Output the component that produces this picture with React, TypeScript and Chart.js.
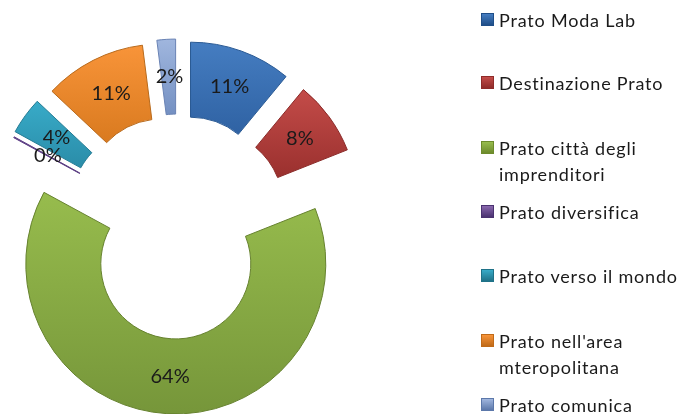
import React, { useEffect, useRef } from "react";
import { Chart, registerables } from "chart.js";

Chart.register(...registerables);

const categories = [
  "Prato Moda Lab",
  "Destinazione Prato",
  "Prato città degli imprenditori",
  "Prato diversifica",
  "Prato verso il mondo",
  "Prato nell'area mteropolitana",
  "Prato comunica",
];
const values = [11, 8, 64, 0.1, 4, 11, 2];
const legendLines = [
  ["Prato Moda Lab"],
  ["Destinazione Prato"],
  ["Prato città degli", "imprenditori"],
  ["Prato diversifica"],
  ["Prato verso il mondo"],
  ["Prato nell'area", "mteropolitana"],
  ["Prato comunica"],
];
const lightColors = ["#457dc1", "#c44c49", "#97bc4d", "#8a68ae", "#38abc8", "#f89439", "#a0b6de"];
const darkColors = ["#2f62a3", "#9a302e", "#76963a", "#553b78", "#2a8ca8", "#d97a1f", "#7490c2"];
const edgeColors = ["#2a5a94", "#8a2a28", "#66822f", "#5a3d82", "#257c94", "#b86a1c", "#6a83b4"];
const swatchColors = ["#1f4e88", "#8f2b29", "#6d8b2c", "#4a3270", "#1f7288", "#c06a18", "#5c78aa"];
const explode = [37, 37, 37, 37, 39, 37, 38];
const legendTops = [7, 70, 135, 199, 263, 328, 392];
const FONT = "Lato, Carlito, sans-serif";

function sliceGradient(ctx: any) {
  const chart = ctx.chart;
  const i = ctx.dataIndex;
  const el = chart.getDatasetMeta(0).data[i] as any;
  if (!chart.chartArea || !el || !el.outerRadius) return lightColors[i];
  const R = el.outerRadius;
  const g = chart.ctx.createLinearGradient(0, el.y - R, 0, el.y + R);
  const ys = [el.startAngle, el.endAngle].flatMap((a: number) => [Math.sin(a) * R, Math.sin(a) * el.innerRadius]);
  if (el.startAngle < Math.PI / 2 && el.endAngle > Math.PI / 2) ys.push(R);
  const top = (Math.min(...ys) + R) / (2 * R);
  const bot = (Math.max(...ys) + R) / (2 * R);
  g.addColorStop(Math.max(0, top), lightColors[i]);
  g.addColorStop(Math.min(1, bot), darkColors[i]);
  return g;
}

const explodePlugin = {
  id: "explodeSlices",
  afterDatasetsUpdate(chart: any) {
    chart.getDatasetMeta(0).data.forEach((el: any, i: number) => {
      const mid = (el.startAngle + el.endAngle) / 2;
      el.x += Math.cos(mid) * explode[i];
      el.y += Math.sin(mid) * explode[i];
    });
  },
};

const labelPlugin = {
  id: "percentLabels",
  afterDatasetsDraw(chart: any) {
    const { ctx } = chart;
    const total = values.reduce((a, b) => a + b, 0);
    ctx.save();
    ctx.font = `20px ${FONT}`;
    ctx.fillStyle = "#1a1a1a";
    ctx.textAlign = "center";
    ctx.textBaseline = "middle";
    chart.getDatasetMeta(0).data.forEach((el: any, i: number) => {
      const p = el.getCenterPoint();
      ctx.fillText(`${Math.round((values[i] / total) * 100)}%`, p.x + 1, p.y);
    });
    ctx.restore();
  },
};

export default function App() {
  const ref = useRef<HTMLCanvasElement>(null);
  useEffect(() => {
    const chart = new Chart(ref.current!, {
      type: "doughnut",
      data: {
        labels: categories,
        datasets: [
          {
            data: values,
            backgroundColor: sliceGradient as any,
            borderColor: edgeColors,
            borderWidth: 1,
          },
        ],
      },
      options: {
        animation: false,
        responsive: false,
        radius: 150,
        cutout: "50%",
        layout: { padding: { right: 326, top: 40 } },
        plugins: { legend: { display: false }, tooltip: { enabled: false } },
      },
      plugins: [explodePlugin, labelPlugin],
    });
    chart.update("none");
    return () => chart.destroy();
  }, []);
  return (
    <div style={{ position: "absolute", left: 0, top: 0, width: 682, height: 414, overflow: "hidden", background: "#fff" }}>
      <canvas ref={ref} width={682} height={414} style={{ position: "absolute", left: 0, top: 0 }} />
      {legendLines.map((lines, i) => (
        <div key={i} style={{ position: "absolute", left: 481, top: legendTops[i], fontFamily: FONT, fontSize: 18, letterSpacing: "0.8px", lineHeight: "26px", color: "#1a1a1a", whiteSpace: "nowrap" }}>
          <span
            style={{
              position: "absolute",
              left: 0,
              top: 6,
              width: 13,
              height: 13,
              background: `linear-gradient(${lightColors[i]}, ${swatchColors[i]})`,
              border: `1px solid ${swatchColors[i]}`,
              boxSizing: "border-box",
            }}
          />
          <div style={{ marginLeft: 18 }}>
            {lines.map((l) => (
              <div key={l}>{l}</div>
            ))}
          </div>
        </div>
      ))}
    </div>
  );
}
